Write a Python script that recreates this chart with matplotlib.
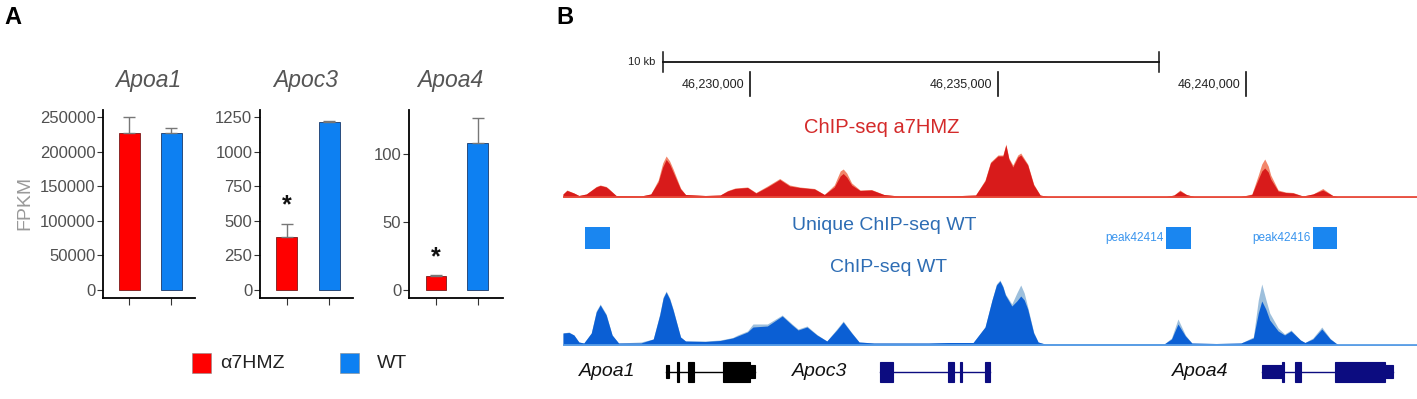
import matplotlib
matplotlib.use("Agg")
import matplotlib.pyplot as plt
from matplotlib.patches import Rectangle

plt.rcParams['font.family'] = ['Liberation Sans', 'DejaVu Sans']

# ---------------- panel A data ----------------
genes = ['Apoa1', 'Apoc3', 'Apoa4']
groups = ['\u03b17HMZ', 'WT']
fpkm_hmz = [227000, 380, 10]
fpkm_wt = [227000, 1215, 108.5]
err_hmz = [23500, 100, 1.0]
err_wt = [7500, 5, 18.5]
yticks = [[0, 50000, 100000, 150000, 200000, 250000],
          [0, 250, 500, 750, 1000, 1250],
          [0, 50, 100]]
ylims = [(-11600, 260600), (-58, 1303), (-5.9, 132.6)]
star_y = [None, 610, 24]

# ---------------- panel B data (kb from 46,230,000) ----------------
origin = 46230000
coord_ticks = [0, 5, 10]
scalebar = (-1.75, 8.25)

red_pos = [-3.77, -3.69, -3.55, -3.45, -3.30, -3.10, -3.02, -2.90, -2.85, -2.70, -2.20, -2.00,
           -1.85, -1.76, -1.69, -1.62, -1.55, -1.40, -1.30, -0.90, -0.60, -0.45, -0.30, -0.05,
           0.12, 0.35, 0.60, 0.80, 1.00, 1.30, 1.50, 1.70, 1.82, 1.88, 1.95, 2.05, 2.22, 2.45,
           2.70, 3.00, 4.00, 4.55, 4.74, 4.85, 5.00, 5.10, 5.16, 5.22, 5.30, 5.40, 5.46, 5.60,
           5.72, 5.85, 6.00, 8.40, 8.55, 8.67, 8.80, 8.95, 9.90, 10.12, 10.25, 10.32, 10.38,
           10.45, 10.50, 10.65, 10.80, 10.95, 11.15, 11.35, 11.55, 11.75, 11.85, 13.45]
red_dark = [3, 6.5, 4, 1.5, 3, 10, 11.5, 10, 8, 1.5, 1, 3,
            15, 30, 37.5, 33, 25, 8, 2.5, 1.5, 2, 6, 8.5, 9.5,
            4, 10, 17.5, 11, 9.5, 8, 2.5, 10, 21, 23.5, 20, 12, 6.5, 7,
            2.5, 1, 1, 2, 16, 34, 41, 41, 52, 38, 30, 40, 42, 32,
            12, 2, 0.5, 0.5, 2, 6, 2.5, 0.5, 0.5, 2.5, 18, 26, 29,
            25, 18, 6, 4.5, 4, 1, 3, 7, 1.5, 0.3, 0.3]
red_light = [3, 7, 4, 1.5, 3, 10.5, 12, 10.5, 8.5, 1.5, 1, 3,
             17, 34, 41, 36, 28, 9, 2.5, 1.5, 2, 6.5, 9, 10,
             4.5, 11, 18.5, 12, 10, 8.5, 2.5, 12, 26, 28, 24, 14, 7, 7.5,
             2.5, 1, 1, 2, 17, 35, 42, 42, 53, 39, 32, 42, 44, 33,
             13, 2, 0.5, 0.5, 2, 7, 2.5, 0.5, 0.5, 3, 22, 33, 38,
             31, 22, 7, 5, 4.5, 1, 3, 8.5, 1.5, 0.3, 0.3]

blue_pos = [-3.77, -3.65, -3.55, -3.45, -3.35, -3.20, -3.10, -3.02, -2.90, -2.78, -2.65, -2.20,
            -1.95, -1.82, -1.75, -1.69, -1.62, -1.55, -1.40, -1.30, -0.90, -0.60, -0.35, -0.25,
            -0.05, 0.06, 0.35, 0.65, 0.85, 0.97, 1.15, 1.35, 1.55, 1.75, 1.88, 2.05, 2.20, 2.50,
            3.60, 4.00, 4.50, 4.74, 4.88, 4.97, 5.04, 5.10, 5.15, 5.28, 5.38, 5.46, 5.53, 5.60,
            5.72, 5.81, 5.95, 8.35, 8.50, 8.63, 8.78, 8.91, 9.40, 9.90, 10.15, 10.25, 10.32,
            10.40, 10.48, 10.65, 10.78, 10.91, 11.10, 11.19, 11.35, 11.53, 11.70, 11.85, 13.45]
blue_dark = [12, 12.5, 10, 3, 2, 12, 33, 40, 30, 10, 2, 2,
             6, 30, 47, 53, 46, 35, 8, 4, 3.5, 4.5, 7, 9,
             13, 18, 19, 29, 20, 15, 18, 10, 4, 15, 23, 12, 3, 2,
             2, 2.5, 2.5, 18, 45, 60, 64, 58, 50, 39, 44, 49, 45, 36,
             12, 3, 1, 1, 6, 21, 9, 2, 1.5, 2, 7, 32, 44,
             36, 25, 14, 10, 14, 5, 2.5, 6, 16, 6, 0.5, 0.5]
blue_light = [12, 13, 10, 3, 2, 12, 34, 41, 31, 10, 2, 3,
              6, 31, 48, 54, 47, 36, 8, 4, 4, 5, 7.5, 10,
              14, 21, 21, 30, 21, 16, 19, 10.5, 4, 16, 24, 12.5, 3, 2,
              2, 2.5, 2.5, 18, 45, 61, 65, 59, 51, 41, 52, 60, 52, 38,
              13, 3, 1, 1, 7, 26, 10, 2, 1.5, 2, 8, 45, 61,
              46, 32, 17, 11, 15, 5, 2.5, 7, 18, 6.5, 0.5, 0.5]

uniq_start = [-3.33, 8.39, 11.35]
uniq_end = [-2.82, 8.89, 11.83]
uniq_names = ['', 'peak42414', 'peak42416']

gene_names = ['Apoa1', 'Apoc3', 'Apoa4']
gene_label_x = [-3.45, 0.85, 8.50]
gene_exons = [
    [(-1.69, -1.64, 'u'), (-1.47, -1.43, 'c'), (-1.25, -1.13, 'c'), (-0.54, 0.0, 'c'), (0.0, 0.10, 'u')],
    [(2.62, 2.88, 'c'), (3.99, 4.11, 'c'), (4.23, 4.27, 'c'), (4.74, 4.84, 'c')],
    [(10.32, 10.73, 'u'), (10.73, 10.77, 'c'), (10.99, 11.11, 'c'), (11.79, 12.80, 'c'), (12.80, 12.96, 'u')],
]
gene_colors = ['black', '#0c0c80', '#0c0c80']

RED = '#ff0000'
BLUE = '#0d80f2'

W, H = 1417, 399
fig = plt.figure(figsize=(W / 100, H / 100), dpi=100)


def px_axes(x0, y0, x1, y1):
    return fig.add_axes([x0 / W, 1 - y1 / H, (x1 - x0) / W, (y1 - y0) / H])


def ftext(x, y, s, **kw):
    fig.text(x / W, 1 - y / H, s, **kw)


# ---------------- panel A ----------------
ftext(4, 18, 'A', fontsize=17, fontweight='bold', va='center')
boxes = [(103, 110, 195, 298), (260, 110, 353, 298), (409, 110, 503, 298)]
xlims = [(0.37, 2.56), (0.376, 2.56), (0.35, 2.61)]
title_x = [148, 306, 450]

for i, g in enumerate(genes):
    ax = px_axes(*boxes[i])
    ax.bar([1], [fpkm_hmz[i]], width=0.5, color=RED, edgecolor='#7a1a1a', linewidth=0.6)
    ax.bar([2], [fpkm_wt[i]], width=0.5, color=BLUE, edgecolor='#1a3a6a', linewidth=0.6)
    ax.errorbar([1, 2], [fpkm_hmz[i], fpkm_wt[i]],
                yerr=[[0, 0], [err_hmz[i], err_wt[i]]],
                fmt='none', ecolor='#777777', elinewidth=1, capsize=4.5, capthick=1)
    if star_y[i] is not None:
        ax.text(1, star_y[i], '*', ha='center', va='center', fontsize=18,
                fontweight='bold', color='#111111')
    ax.set_xlim(*xlims[i])
    ax.set_ylim(*ylims[i])
    ax.set_xticks([1, 2])
    ax.set_xticklabels([])
    ax.set_yticks(yticks[i])
    ax.tick_params(axis='y', length=4, width=0.8, color='#333333', labelsize=12,
                   labelcolor='#505050', pad=1.5)
    ax.tick_params(axis='x', length=5, width=0.8, color='#333333')
    for s in ['top', 'right']:
        ax.spines[s].set_visible(False)
    for s in ['left', 'bottom']:
        ax.spines[s].set_linewidth(1.3)
    ax.patch.set_alpha(0)
    ftext(title_x[i], 80, g, fontsize=16.5, style='italic', color='#555555',
          ha='center', va='center')

ftext(25, 203, 'FPKM', fontsize=14, color='#999999', rotation=90, ha='center', va='center')

# legend
for (x0, c, lab, tx) in [(192, RED, groups[0], 220), (340, BLUE, groups[1], 377)]:
    fig.patches.append(Rectangle((x0 / W, 1 - 373 / H), 19 / W, 20 / H,
                                 transform=fig.transFigure, facecolor=c,
                                 edgecolor='#8a8a8a', linewidth=0.4))
    ftext(tx, 363, lab, fontsize=14, color='#222222', va='center')

# ---------------- panel B ----------------
ftext(556, 18, 'B', fontsize=17, fontweight='bold', va='center')
XL = (-3.77, 13.45)

# red track
axr = px_axes(563, 140, 1417, 199)
axr.fill_between(red_pos, 0, red_light, color='#f2866a', linewidth=0)
axr.fill_between(red_pos, 0, red_dark, color='#d81b1b', linewidth=0)
axr.axhline(0, color='#e84a3a', linewidth=1.3)
axr.set_xlim(*XL)
axr.set_ylim(-2, 57)
axr.axis('off')

# blue track
axw = px_axes(563, 276, 1417, 348)
axw.fill_between(blue_pos, 0, blue_light, color='#9dbfdc', linewidth=0)
axw.fill_between(blue_pos, 0, blue_dark, color='#0b5fd4', linewidth=0)
axw.axhline(0, color='#5a9ee6', linewidth=1.3)
axw.set_xlim(*XL)
axw.set_ylim(-3, 69)
axw.axis('off')

# ruler, peaks, genes (y in rows)
axg = px_axes(563, 40, 1417, 399)
axg.set_xlim(*XL)
axg.set_ylim(399, 40)
axg.axis('off')
axg.patch.set_alpha(0)

axg.plot(scalebar, [62, 62], color='#111111', linewidth=1.3)
for xb in scalebar:
    axg.plot([xb, xb], [52, 72], color='#111111', linewidth=1.1)
axg.text(scalebar[0] - 0.15, 62, '10 kb', fontsize=8, ha='right', va='center', color='#222222')
for k in coord_ticks:
    axg.plot([k, k], [72, 96], color='#111111', linewidth=1.2)
    axg.text(k - 0.12, 85, f'{origin + k * 1000:,}', fontsize=9, ha='right',
             va='center', color='#222222')

axg.text(2.65, 128, 'ChIP-seq a7HMZ', fontsize=14.5, color='#d42a2a', ha='center', va='center')
axg.text(2.70, 226, 'Unique ChIP-seq WT', fontsize=14, color='#2e6db4', ha='center', va='center')
axg.text(2.80, 268, 'ChIP-seq WT', fontsize=14, color='#2e6db4', ha='center', va='center')

for s, e, n in zip(uniq_start, uniq_end, uniq_names):
    axg.add_patch(Rectangle((s, 227), e - s, 22, facecolor='#1a86f0', edgecolor='none'))
    if n:
        axg.text(s - 0.05, 238, n, fontsize=8.5, color='#3a95ee', ha='right', va='center')

for name, lx, exons, c in zip(gene_names, gene_label_x, gene_exons, gene_colors):
    axg.text(lx, 372, name, fontsize=14, style='italic', color='#111111',
             ha='left', va='center')
    lo = min(ex[0] for ex in exons)
    hi = max(ex[1] for ex in exons)
    axg.plot([lo, hi], [372, 372], color=c, linewidth=1.0)
    for s, e, kind in exons:
        h = 20 if kind == 'c' else 13
        axg.add_patch(Rectangle((s, 372 - h / 2), e - s, h, facecolor=c, edgecolor=c,
                                linewidth=0.8))

fig.savefig('out.png', dpi=100)
